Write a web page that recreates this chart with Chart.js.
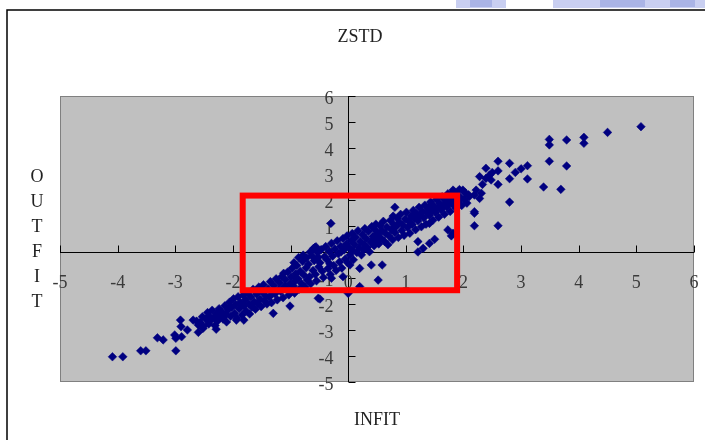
<!DOCTYPE html>
<html>
<head>
<meta charset="utf-8">
<script src="https://cdn.jsdelivr.net/npm/chart.js@4"></script>
<style>
  body { margin: 0; background: #fff; }
</style>
</head>
<body>
<canvas id="myChart" width="705" height="440"></canvas>
<script>
const xTicks = [-5, -4, -3, -2, -1, 0, 1, 2, 3, 4, 5, 6];
const yTicks = [-5, -4, -3, -2, -1, 0, 1, 2, 3, 4, 5, 6];
const titleText = 'ZSTD';
const xTitle = 'INFIT';
const yTitle = 'OUTFIT';

// [INFIT ZSTD, OUTFIT ZSTD]
const lowerTail = [
  [-4.09,-4.03],[-3.91,-4.03],[-3.6,-3.8],[-3.51,-3.8],[-3.31,-3.3],[-3.21,-3.38],
  [-2.99,-3.8],[-3.01,-3.19],[-2.99,-3.32],[-2.89,-3.26],[-2.91,-2.62],[-2.9,-2.87],
  [-2.79,-3.0],[-2.69,-2.62],[-2.6,-2.81],[-2.6,-3.09],[-2.52,-2.94],[-2.29,-2.97],
  [-1.94,-2.62],[-1.81,-2.62],[-2.63,-2.66]
];

const band = [
  [-2.57,-2.71],[-2.53,-2.49],[-2.51,-2.86],
  [-2.47,-2.58],[-2.44,-2.33],[-2.42,-2.77],[-2.41,-2.46],
  [-2.38,-2.62],[-2.36,-2.24],[-2.33,-2.51],[-2.31,-2.83],
  [-2.28,-2.37],[-2.27,-2.66],[-2.24,-2.18],[-2.22,-2.49],
  [-2.19,-2.3],[-2.17,-2.58],[-2.14,-2.07],[-2.12,-2.41],[-2.11,-2.69],
  [-2.08,-2.22],[-2.06,-1.93],[-2.04,-2.47],[-2.02,-2.13],
  [-1.99,-1.8],[-1.97,-2.36],[-1.95,-2.02],[-1.93,-2.55],[-1.91,-1.72],
  [-1.89,-2.18],[-1.87,-1.93],[-1.84,-2.42],[-1.82,-1.66],[-1.81,-2.07],
  [-1.78,-1.84],[-1.77,-2.27],[-1.74,-1.57],[-1.72,-2.01],[-1.71,-2.38],
  [-1.69,-1.73],[-1.67,-2.12],[-1.65,-1.43],[-1.63,-1.92],[-1.61,-2.2],
  [-1.59,-1.62],[-1.57,-1.98],[-1.55,-1.35],[-1.53,-1.81],[-1.51,-2.1],
  [-1.49,-1.54],[-1.47,-1.26],[-1.45,-1.88],[-1.43,-1.69],[-1.41,-2.0],
  [-1.39,-1.42],[-1.37,-1.73],[-1.35,-1.14],[-1.33,-1.95],[-1.31,-1.58],
  [-1.29,-1.29],[-1.27,-1.61],[-1.25,-1.03],[-1.23,-1.84],[-1.21,-1.45],
  [-1.19,-1.18],[-1.17,-1.52],[-1.15,-0.94],[-1.13,-1.76],[-1.11,-1.33],[-1.12,-0.82],
  [-1.09,-1.07],[-1.07,-1.41],[-1.05,-0.77],[-1.03,-1.65],[-1.01,-1.22],
  [-0.99,-0.96],[-0.97,-0.62],[-0.95,-1.31],[-0.93,-1.58],[-0.91,-0.84],[-0.92,-1.12],
  [-0.94,-0.41],[-0.86,-0.21],[-0.78,-0.12],[-0.66,0.0],[-0.56,0.2],
  [-0.89,-0.52],[-0.87,-1.03],[-0.85,-1.43],[-0.83,-0.74],[-0.81,-1.21],
  [-0.79,-0.36],[-0.77,-0.88],[-0.75,-1.34],[-0.73,-0.61],[-0.71,-1.08],[-0.72,-0.22],
  [-0.69,-0.47],[-0.67,-0.95],[-0.65,-1.22],[-0.63,-0.14],[-0.61,-0.71],
  [-0.59,-0.33],[-0.57,-0.86],[-0.55,-1.11],[-0.53,-0.02],[-0.51,-0.57],[-0.52,-0.2],
  [-0.49,-0.41],[-0.47,0.09],[-0.45,-0.74],[-0.43,-0.98],[-0.41,-0.18],
  [-0.39,0.21],[-0.37,-0.29],[-0.35,-0.63],[-0.33,0.02],[-0.31,-0.87],[-0.32,-0.45],
  [-0.29,0.33],[-0.27,-0.16],[-0.25,-0.52],[-0.23,0.12],[-0.21,-0.71],
  [-0.19,0.43],[-0.17,-0.07],[-0.15,-0.38],[-0.13,0.22],[-0.11,-0.62],[-0.12,0.01],
  [-0.09,0.52],[-0.07,0.08],[-0.05,-0.27],[-0.03,0.31],[-0.01,-0.41],[-0.02,0.62],
  [0.01,0.18],[0.03,-0.12],[0.05,0.44],[0.07,0.71],[0.09,-0.3],[0.08,0.06],
  [0.11,0.29],[0.13,0.57],[0.15,-0.02],[0.17,0.82],[0.19,0.16],
  [0.21,0.4],[0.23,-0.11],[0.25,0.66],[0.27,0.09],[0.29,0.9],[0.28,0.28],
  [0.31,0.52],[0.33,0.17],[0.35,0.79],[0.37,0.01],[0.39,0.38],
  [0.41,0.98],[0.43,0.6],[0.45,0.24],[0.47,0.85],[0.49,0.44],[0.48,1.07],
  [0.51,0.69],[0.53,0.31],[0.55,1.02],[0.57,0.53],[0.59,0.82],
  [0.61,1.18],[0.63,0.41],[0.65,0.71],[0.67,0.96],[0.69,0.28],
  [0.71,0.62],[0.73,1.21],[0.75,0.86],[0.77,0.47],[0.79,1.06],[0.78,1.38],
  [0.81,0.75],[0.83,0.97],[0.85,1.3],[0.87,0.56],[0.89,1.14],
  [0.91,1.45],[0.93,0.83],[0.95,1.04],[0.97,0.64],[0.99,1.27],
  [1.01,1.53],[1.03,0.94],[1.05,1.18],[1.07,0.72],[1.09,1.38],
  [1.11,1.06],[1.13,1.6],[1.15,1.29],[1.17,0.86],[1.19,1.47],
  [1.21,1.19],[1.23,1.72],[1.25,1.4],[1.27,0.97],[1.29,1.56],
  [1.31,1.31],[1.33,1.8],[1.35,1.07],[1.37,1.49],[1.39,1.65],
  [1.41,1.41],[1.43,1.92],[1.45,1.58],[1.47,1.22],[1.49,1.76],
  [1.51,1.52],[1.53,2.02],[1.55,1.68],[1.57,1.34],[1.59,1.86],
  [1.61,1.63],[1.63,2.12],[1.65,1.78],[1.67,1.45],[1.69,1.96],
  [1.71,1.73],[1.73,2.24],[1.75,1.88],[1.77,1.56],[1.79,2.05],
  [1.81,1.84],[1.83,2.33],[1.85,2.0],[1.87,1.68],[1.89,2.17],
  [1.91,1.93],[1.93,2.4],[1.95,2.1],[1.97,1.79],
  [2.01,2.03],[2.03,2.28],[2.06,1.88],[2.09,2.2]
];

const strays = [
  [-0.3,1.1],[-0.6,0.14],[-0.58,0.17],[-0.52,-1.78],[-0.49,-1.81],[-1.3,-2.36],
  [-1.01,-2.08],[-0.29,-1.01],[0.0,-1.59],[0.2,-1.33],[0.52,-1.08],[0.4,-0.5],
  [0.59,-0.5],[0.03,-0.5],[0.2,-0.63],[-0.09,-0.95],[1.21,0.0],[1.21,0.4],
  [1.3,0.14],[1.41,0.33],[1.5,0.49],[1.73,0.85],[1.82,0.72],[0.81,1.72],
  [1.41,1.74],[1.41,1.1],[1.79,0.62]
];

const upperTail = [
  [2.22,2.38],[2.31,2.26],[2.19,2.19],[2.28,2.06],[2.1,2.13],[1.99,2.38],[1.82,2.38],
  [1.7,2.13],[2.28,2.9],[2.39,2.83],[2.48,2.77],[2.39,3.22],[2.5,3.06],[2.19,1.55],
  [2.19,1.49],[2.19,1.01],[2.6,3.49],[2.6,3.12],[2.6,2.6],[2.6,1.01],[2.8,1.92],
  [2.8,3.41],[2.8,2.82],[2.9,3.06],[3.0,3.2],[3.11,3.32],[3.11,2.81],[3.39,2.5],
  [3.69,2.41],[3.49,3.49],[3.79,3.31],[3.49,4.12],[3.49,4.33],[3.79,4.31],
  [4.09,4.18],[4.09,4.41],[4.5,4.6],[5.08,4.82],[2.33,2.6],[2.45,2.95]
];

// marked region, in data units
const boxX = [-1.83, 1.89];
const boxY = [-1.47, 2.17];

const allPoints = lowerTail.concat(band, strays, upperTail).map(function (p) {
  return { x: p[0], y: p[1] };
});

const serif = '"Liberation Serif", "Times New Roman", serif';

const excelLook = {
  id: 'excelLook',
  beforeDatasetsDraw(chart) {
    const ctx = chart.ctx;
    const a = chart.chartArea;
    const xs = chart.scales.x;
    const ys = chart.scales.y;
    ctx.save();

    // piece of the slide picture peeking in at the top
    ctx.fillStyle = '#c9cff1';
    ctx.fillRect(456, 0, 50, 8);
    ctx.fillRect(553, 0, 152, 8);
    ctx.fillStyle = '#aab4e6';
    ctx.fillRect(470, 0, 22, 7);
    ctx.fillRect(600, 0, 45, 7);
    ctx.fillRect(670, 0, 25, 7);

    // outer frame
    ctx.strokeStyle = '#000';
    ctx.lineWidth = 1.5;
    ctx.beginPath();
    ctx.moveTo(7, chart.height);
    ctx.lineTo(7, 10);
    ctx.lineTo(chart.width, 10);
    ctx.stroke();

    // plot area
    ctx.fillStyle = '#c0c0c0';
    ctx.fillRect(a.left, a.top, a.right - a.left, a.bottom - a.top);
    ctx.strokeStyle = '#808080';
    ctx.lineWidth = 1;
    ctx.strokeRect(a.left + 0.5, a.top + 0.5, a.right - a.left - 1, a.bottom - a.top - 1);

    // axes crossing at zero
    const x0 = Math.round(xs.getPixelForValue(0)) + 0.5;
    const y0 = Math.round(ys.getPixelForValue(0)) + 0.5;
    ctx.strokeStyle = '#000';
    ctx.beginPath();
    ctx.moveTo(a.left, y0);
    ctx.lineTo(a.right, y0);
    ctx.moveTo(x0, a.top);
    ctx.lineTo(x0, a.bottom);
    xTicks.forEach(function (v) {
      const px = Math.round(xs.getPixelForValue(v)) + 0.5;
      ctx.moveTo(px, y0);
      ctx.lineTo(px, y0 - 7);
    });
    yTicks.forEach(function (v) {
      const py = Math.round(ys.getPixelForValue(v)) + 0.5;
      ctx.moveTo(x0, py);
      ctx.lineTo(x0 + 7, py);
    });
    ctx.stroke();

    // tick labels
    ctx.fillStyle = '#3a3a3a';
    ctx.font = '18px ' + serif;
    ctx.textBaseline = 'middle';
    ctx.textAlign = 'center';
    xTicks.forEach(function (v) {
      ctx.fillText(String(v), xs.getPixelForValue(v), y0 + 31);
    });
    ctx.textAlign = 'right';
    yTicks.forEach(function (v) {
      ctx.fillText(String(v), x0 - 15, ys.getPixelForValue(v) + 3);
    });

    // titles
    ctx.fillStyle = '#222';
    ctx.textAlign = 'center';
    ctx.fillText(titleText, 360, 37);
    ctx.fillText(xTitle, 377, 420);
    yTitle.split('').forEach(function (ch, i) {
      ctx.fillText(ch, 37, 177 + i * 25);
    });
    ctx.restore();
  },
  afterDatasetsDraw(chart) {
    const ctx = chart.ctx;
    const xs = chart.scales.x;
    const ys = chart.scales.y;
    const left = xs.getPixelForValue(boxX[0]);
    const right = xs.getPixelForValue(boxX[1]);
    const top = ys.getPixelForValue(boxY[1]);
    const bottom = ys.getPixelForValue(boxY[0]);
    ctx.save();
    ctx.strokeStyle = '#ff0000';
    ctx.lineWidth = 6;
    ctx.strokeRect(left, top, right - left, bottom - top);
    ctx.restore();
  }
};

const config = {
  type: 'scatter',
  data: {
    datasets: [{
      label: 'ZSTD',
      data: allPoints,
      pointStyle: 'rectRot',
      pointRadius: 4.3,
      backgroundColor: '#000080',
      borderColor: '#000080',
      borderWidth: 0.5
    }]
  },
  options: {
    responsive: false,
    animation: false,
    layout: { padding: { left: 60, top: 96, right: 11, bottom: 58 } },
    scales: {
      x: { type: 'linear', min: -5, max: 6, display: false },
      y: { type: 'linear', min: -5, max: 6, display: false }
    },
    plugins: {
      legend: { display: false },
      tooltip: { enabled: false }
    }
  },
  plugins: [excelLook]
};

const myChart = new Chart(document.getElementById('myChart'), config);
</script>
</body>
</html>
